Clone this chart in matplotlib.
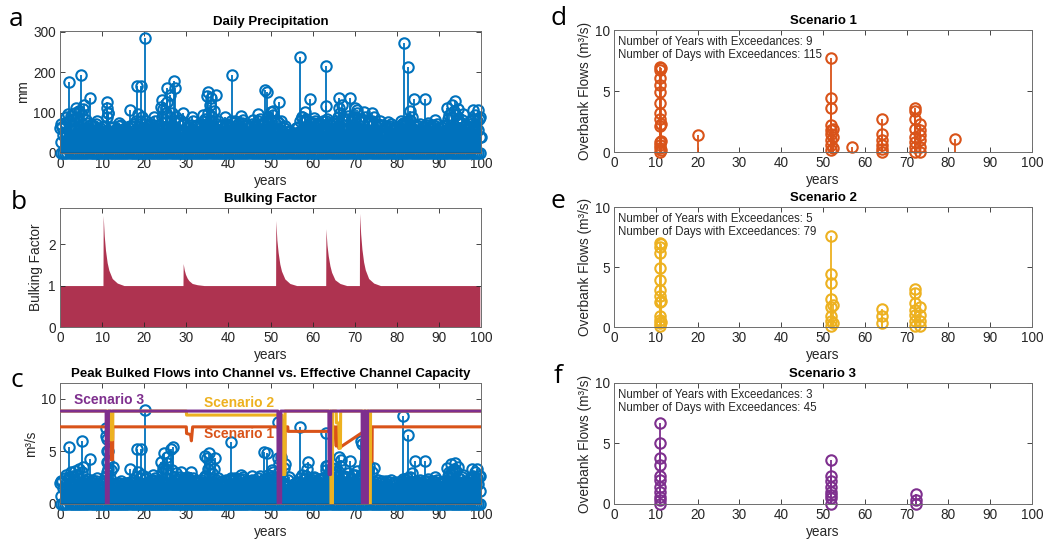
import numpy as np
import matplotlib.pyplot as plt

plt.rcParams['font.family'] = ['Liberation Sans', 'DejaVu Sans']
plt.rcParams['font.size'] = 9.5

BLUE = '#0072BD'
ORANGE = '#D95319'
YELLOW = '#EDB120'
PURPLE = '#7E2F8E'
BULK = '#AE3350'
DARK = '#262626'

# ---- a: daily precipitation (mm), sampled days ----
# two sampled days per year (the dense part of the record)
rain_dense = [
    28, 45, 52, 48, 60, 55, 58, 62, 55, 60, 50, 58, 62, 55, 48, 52, 45, 50, 42, 48,
    50, 55, 58, 52, 48, 45, 50, 47, 45, 50, 48, 52, 50, 46, 55, 48, 52, 58, 55, 60,
    62, 58, 55, 60, 58, 52, 60, 55, 62, 65, 58, 62, 60, 66, 62, 58, 55, 52, 58, 54,
    52, 48, 50, 55, 48, 52, 55, 58, 60, 62, 65, 60, 58, 62, 55, 58, 50, 52, 54, 56,
    55, 52, 58, 60, 55, 52, 50, 55, 48, 46, 50, 48, 52, 55, 58, 54, 56, 60, 58, 55,
    60, 56, 55, 52, 58, 54, 45, 42, 40, 38, 42, 45, 48, 52, 55, 60, 58, 62, 60, 56,
    58, 55, 56, 58, 60, 58, 62, 60, 58, 62, 60, 56, 62, 65, 60, 58, 58, 62, 60, 58,
    62, 58, 56, 60, 58, 55, 57, 54, 55, 58, 52, 50, 50, 48, 48, 50, 46, 44, 45, 42,
    48, 52, 55, 58, 60, 62, 58, 60, 55, 58, 52, 55, 50, 52, 48, 50, 52, 48, 50, 46,
    48, 50, 52, 55, 56, 60, 62, 58, 60, 62, 58, 55, 56, 60, 62, 58, 60, 62, 58, 40,
]
# two further wet days per year
rain_mid = [
    62, 75, 80, 85, 90, 95, 82, 70, 66, 60,
    64, 90, 62, 58, 66, 60, 64, 68, 80, 78,
    72, 68, 70, 66, 90, 100, 88, 80, 74, 70,
    62, 70, 66, 68, 78, 100, 90, 72, 66, 68,
    70, 74, 70, 75, 66, 68, 64, 78, 70, 80,
    82, 74, 75, 62, 52, 50, 62, 80, 78, 68,
    74, 70, 72, 78, 70, 74, 88, 80, 84, 80,
    86, 78, 82, 74, 80, 68, 66, 64, 66, 60,
    62, 70, 74, 82, 66, 68, 64, 70, 66, 68,
    62, 66, 84, 90, 95, 76, 66, 72, 85, 78,
]
rain_upper = [
    65, 88, 92, 98, 105, 110, 75, 70, 72, 62,
    68, 100, 65, 60, 70, 62, 68, 72, 96, 90,
    80, 72, 78, 70, 110, 125, 100, 90, 82, 75,
    65, 78, 70, 72, 85, 120, 105, 78, 70, 72,
    78, 80, 75, 82, 70, 72, 68, 85, 75, 90,
    95, 80, 80, 68, 55, 50, 65, 90, 85, 72,
    80, 75, 78, 85, 75, 80, 100, 85, 92, 88,
    100, 85, 90, 80, 88, 72, 70, 68, 72, 65,
    65, 75, 80, 90, 70, 72, 68, 75, 70, 72,
    65, 70, 95, 105, 110, 82, 70, 78, 95, 85,
]
# storm days
rain_peak_t = [0.3, 1.9, 2.1, 3.9, 4.4, 5.0, 5.8, 7.0, 8.8, 11.1, 11.2, 11.3,
               14.0, 16.6, 18.2, 19.3, 20.1, 22.3, 24.0, 24.2, 25.3, 26.1, 27.1,
               27.2, 29.3, 31.4, 34.0, 34.9, 35.1, 35.8, 37.1, 39.2, 40.8, 43.0,
               45.8, 46.9, 48.7, 49.2, 50.1, 50.6, 52.1, 57.1, 57.4, 58.1, 59.3,
               60.3, 63.1, 63.2, 66.2, 66.3, 67.0, 68.8, 70.0, 70.6, 72.2, 74.0,
               75.9, 77.9, 81.1, 81.7, 82.7, 83.1, 84.1, 86.7, 89.0, 91.8, 93.0,
               93.9, 95.7, 98.0, 99.2, 99.8, 100.0]
rain_peak = [71, 96, 175, 111, 105, 192, 119, 137, 80, 125, 111, 100,
             75, 107, 166, 166, 284, 90, 115, 131, 160, 144, 177,
             162, 98, 88, 94, 140, 152, 135, 144, 88, 192, 92,
             81, 96, 156, 152, 101, 105, 126, 237, 88, 101, 134,
             86, 216, 116, 137, 111, 118, 135, 111, 107, 101, 99,
             79, 76, 78, 272, 214, 103, 134, 134, 82, 112, 119,
             129, 96, 106, 106, 90, 40]

# ---- b: bulking factor ----
fire_years = [10.2, 29.2, 51.2, 63.1, 71.1]
decay_offsets = [0.0, 0.05, 0.3, 0.6, 1.0, 1.4, 2.2, 3.4, 5.0]
decay_values = [
    [1.0, 2.69, 2.20, 1.85, 1.55, 1.37, 1.17, 1.06, 1.0],
    [1.0, 1.53, 1.38, 1.27, 1.18, 1.12, 1.05, 1.02, 1.0],
    [1.0, 2.57, 2.10, 1.80, 1.52, 1.35, 1.16, 1.05, 1.0],
    [1.0, 2.37, 1.98, 1.72, 1.48, 1.32, 1.14, 1.05, 1.0],
    [1.0, 2.74, 2.25, 1.88, 1.57, 1.38, 1.17, 1.06, 1.0],
]
record_end = 99.7

# ---- c: peak bulked flows (m3/s) ----
flow_dense = [
    0.8, 1.5, 1.8, 1.6, 2.0, 1.8, 1.9, 2.1, 1.8, 2.0, 1.7, 1.9, 2.0, 1.8, 1.6, 1.7, 1.5, 1.6, 1.4, 1.6,
    1.6, 2.6, 3.0, 2.5, 2.0, 1.8, 1.7, 1.6, 1.5, 1.6, 1.6, 1.7, 1.7, 1.5, 1.8, 1.6, 1.7, 1.9, 1.8, 1.9,
    2.0, 1.9, 1.8, 1.9, 1.9, 1.7, 1.9, 1.8, 2.0, 2.1, 1.9, 2.0, 2.0, 2.1, 2.0, 1.9, 1.8, 1.7, 1.9, 2.4,
    2.2, 1.9, 1.7, 1.8, 1.6, 1.7, 1.8, 1.9, 2.0, 2.0, 2.1, 2.0, 1.9, 2.0, 1.8, 1.9, 1.7, 1.7, 1.8, 1.8,
    1.8, 1.7, 1.9, 2.0, 1.8, 1.7, 1.7, 1.8, 1.6, 1.5, 1.7, 1.6, 1.7, 1.8, 1.9, 1.8, 1.9, 2.0, 1.9, 1.8,
    2.0, 1.9, 1.8, 2.9, 3.2, 2.6, 2.0, 1.6, 1.3, 1.2, 1.4, 1.5, 1.6, 1.7, 1.8, 2.0, 1.9, 2.1, 2.0, 1.9,
    1.9, 1.8, 1.9, 2.0, 2.0, 1.9, 2.0, 2.8, 2.6, 2.3, 2.2, 2.0, 2.1, 2.2, 2.0, 1.9, 1.9, 2.0, 2.0, 1.9,
    2.0, 1.9, 1.8, 2.8, 3.0, 2.6, 2.4, 2.0, 1.9, 1.9, 1.7, 1.6, 1.6, 1.5, 1.5, 1.6, 1.5, 1.4, 1.4, 1.3,
    1.5, 1.7, 1.8, 1.9, 2.0, 2.1, 1.9, 2.0, 1.8, 1.9, 1.7, 1.8, 1.6, 1.7, 1.5, 1.6, 1.7, 1.5, 1.6, 1.5,
    1.5, 1.6, 1.7, 1.8, 1.9, 2.0, 2.1, 1.9, 2.0, 2.1, 1.9, 1.8, 1.8, 1.9, 2.0, 1.9, 1.9, 2.0, 1.9, 1.2,
]
flow_mid = [
    2.0, 2.5, 2.6, 2.7, 2.8, 3.0, 2.2, 2.1, 2.0, 1.9,
    2.0, 4.0, 3.2, 1.9, 2.0, 1.9, 2.0, 2.1, 2.6, 2.5,
    2.4, 2.1, 2.3, 2.1, 2.9, 3.3, 2.8, 2.6, 2.4, 2.2,
    2.6, 2.3, 2.1, 2.2, 2.5, 3.3, 2.9, 2.3, 2.1, 2.2,
    2.3, 2.3, 2.2, 2.4, 2.1, 2.1, 2.1, 2.5, 2.2, 2.5,
    2.6, 2.4, 3.8, 3.4, 2.3, 1.8, 2.0, 2.5, 2.4, 2.2,
    2.3, 2.2, 2.3, 3.2, 3.0, 2.8, 3.1, 2.5, 2.6, 2.5,
    2.8, 2.5, 3.5, 3.2, 3.0, 2.1, 2.0, 2.0, 2.1, 2.0,
    2.0, 2.2, 2.3, 2.6, 2.1, 2.1, 2.0, 2.2, 2.0, 2.1,
    2.0, 2.1, 2.7, 3.0, 3.1, 2.4, 2.1, 2.3, 2.7, 2.5,
]
flow_upper = [
    2.2, 2.8, 3.0, 3.1, 3.3, 3.5, 2.4, 2.3, 2.2, 2.0,
    2.2, 5.0, 3.5, 2.0, 2.2, 2.0, 2.1, 2.3, 3.0, 2.8,
    2.6, 2.3, 2.5, 2.2, 3.4, 3.9, 3.2, 2.9, 2.6, 2.4,
    2.5, 2.5, 2.2, 2.3, 2.7, 3.8, 3.3, 2.5, 2.2, 2.3,
    2.5, 2.5, 2.4, 2.6, 2.2, 2.3, 2.2, 2.7, 2.4, 2.8,
    3.0, 2.6, 4.5, 3.8, 2.6, 1.9, 2.1, 2.8, 2.7, 2.3,
    2.5, 2.4, 2.5, 3.6, 3.4, 3.0, 3.6, 2.7, 2.9, 2.8,
    3.1, 2.7, 4.0, 3.6, 3.4, 2.3, 2.2, 2.2, 2.3, 2.1,
    2.1, 2.4, 2.5, 2.9, 2.2, 2.3, 2.2, 2.4, 2.2, 2.3,
    2.1, 2.2, 3.0, 3.3, 3.5, 2.6, 2.2, 2.5, 3.0, 2.7,
]
flow_peak_t = [0.16, 2.1, 5.2, 7.0, 8.8, 10.9, 11.0, 11.1, 11.2, 11.3, 11.4,
               16.7, 18.2, 19.3, 20.1, 22.0, 24.0, 24.8, 25.5, 26.3, 26.9, 28.7,
               31.0, 34.5, 34.9, 35.3, 36.9, 40.5, 42.9, 45.6, 48.4, 49.2, 50.3,
               51.7, 51.8, 57.1, 58.6, 59.0, 60.4, 63.1, 63.2, 66.2, 66.7, 68.8,
               71.6, 71.7, 72.8, 81.5, 82.7, 84.3, 86.7, 89.0, 91.8, 92.8, 93.9,
               95.6, 97.9, 99.0, 99.8]
flow_peak = [2.2, 5.4, 6.0, 4.3, 2.5, 7.2, 6.5, 6.2, 5.0, 4.0, 3.3,
             3.3, 5.2, 5.2, 8.9, 2.8, 4.0, 4.8, 4.5, 5.2, 5.4, 3.0,
             3.0, 4.6, 4.4, 4.8, 4.4, 5.9, 2.8, 2.7, 4.9, 4.8, 3.2,
             7.8, 4.4, 7.3, 3.3, 4.0, 2.6, 6.7, 3.6, 4.5, 4.2, 4.1,
             6.0, 5.7, 3.5, 8.4, 6.6, 4.1, 4.1, 2.6, 3.4, 3.8, 3.9,
             2.8, 3.3, 3.3, 2.7]

# effective channel capacity per scenario (vertices of the step lines)
cap1_t = [0, 12.1, 12.15, 12.5, 12.55, 30.0, 30.05, 31.0, 31.2, 31.5, 52.8, 52.85,
          53.4, 53.45, 54.1, 54.15, 64.2, 64.25, 64.6, 64.65, 65.2, 65.25, 65.6,
          65.7, 66.1, 66.2, 73.8, 73.85, 74.1, 74.15, 100]
cap1 = [7.33, 7.33, 4.2, 4.2, 7.33, 7.33, 6.7, 6.6, 6.0, 7.33, 7.33, 3.1,
        3.1, 7.33, 7.33, 6.9, 6.9, 2.8, 2.8, 6.9, 7.33, 7.33, 5.5,
        7.33, 7.33, 5.3, 7.33, 4.0, 4.0, 7.33, 7.33]
cap2_t = [0, 11.95, 12.0, 12.5, 12.55, 30.0, 30.05, 52.7, 52.75, 53.4, 53.45,
          64.3, 64.35, 64.7, 64.75, 65.6, 65.65, 66.2, 66.35, 66.6, 66.65,
          73.3, 73.35, 73.7, 73.75, 100]
cap2 = [8.83, 8.83, 6.1, 6.1, 8.83, 8.83, 8.45, 8.45, 2.8, 2.8, 8.83,
        8.83, 0.0, 0.0, 8.83, 8.83, 7.7, 7.7, 5.3, 5.3, 8.83,
        8.83, 0.0, 0.0, 8.83, 8.83]
cap3_t = [0, 10.95, 11.0, 11.45, 11.5, 51.75, 51.8, 52.4, 52.45, 63.85, 63.9,
          64.25, 64.3, 71.75, 71.8, 72.2, 72.25, 72.6, 72.65, 73.0, 73.05, 100]
cap3 = [8.83, 8.83, 0.0, 0.0, 8.83, 8.83, 0.0, 0.0, 8.83, 8.83, 2.8,
        2.8, 8.83, 8.83, 0.0, 0.0, 8.83, 8.83, 0.0, 0.0, 8.83, 8.83]

# ---- d-f: overbank flows (m3/s) ----
s1_t = [11.0] * 13 + [11.3] * 4 + [20.0] + [52.0] * 9 + [52.3] * 3 + [57.0] \
    + [64.0] * 6 + [72.0] * 8 + [73.2] * 6 + [81.7]
s1_q = [7.0, 6.7, 6.1, 5.5, 4.9, 4.0, 3.2, 2.7, 2.1, 0.8, 0.55, 0.3, 0.0,
        6.9, 2.3, 0.9, 0.2,
        1.42,
        7.67, 4.4, 3.64, 2.2, 1.8, 1.5, 0.96, 0.55, 0.14,
        1.9, 1.2, 0.3,
        0.41,
        2.74, 1.5, 0.96, 0.55, 0.27, 0.0,
        3.64, 3.4, 2.74, 1.9, 1.2, 0.8, 0.4, 0.0,
        2.3, 1.8, 1.4, 0.96, 0.4, 0.0,
        1.04]
s2_t = [11.0] * 12 + [11.3] * 3 + [52.0] * 8 + [52.3] * 2 + [64.2] * 3 \
    + [72.0] * 7 + [73.3] * 4
s2_q = [7.0, 6.7, 6.2, 4.9, 3.9, 3.1, 2.6, 2.1, 0.9, 0.6, 0.3, 0.05,
        6.9, 2.2, 0.4,
        7.6, 4.4, 3.7, 2.3, 1.7, 0.9, 0.5, 0.05,
        1.8, 0.3,
        1.5, 0.9, 0.33,
        3.2, 2.8, 2.0, 1.4, 1.0, 0.5, 0.05,
        1.7, 1.0, 0.5, 0.05]
s3_t = [11.0] * 11 + [52.0] * 8 + [72.3] * 3
s3_q = [6.7, 5.0, 3.8, 3.2, 2.3, 2.0, 1.4, 1.0, 0.6, 0.3, 0.0,
        3.6, 2.3, 1.9, 1.4, 1.0, 0.75, 0.5, 0.0,
        0.8, 0.33, 0.0]
exceed_years = [9, 5, 3]
exceed_days = [115, 79, 45]

day_t = np.arange(0, 100, 0.5) + 0.25
mid_t = np.arange(100) + 0.1
upper_t = np.arange(100) + 0.5


def style(ax, ylim, yticks):
    ax.set_xlim(0, 100)
    ax.set_ylim(*ylim)
    ax.set_xticks(range(0, 101, 10))
    ax.set_yticks(yticks)
    ax.tick_params(direction='in', length=3.5, width=0.6, top=True, right=True,
                   colors=DARK, labelcolor=DARK, labelsize=9.8, pad=3)
    for sp in ax.spines.values():
        sp.set_color('#6e6e6e')
        sp.set_linewidth(0.7)
    ax.set_xlabel('years', color=DARK, labelpad=2, fontsize=9.8)


def stems(ax, t, v, color, ms=7.5, lw=1.3, mew=1.5, z=2):
    m, s, b = ax.stem(t, v, basefmt=' ')
    s.set_color(color)
    s.set_linewidth(lw)
    s.set_zorder(z)
    m.set_color(color)
    m.set_markerfacecolor('none')
    m.set_markersize(ms)
    m.set_markeredgewidth(mew)
    m.set_clip_on(False)
    m.set_zorder(z)


fig = plt.figure(figsize=(10.44, 5.40), dpi=100)
L = [0.0575, 0.4033]
R = [0.5881, 0.4004]

# a
ax = fig.add_axes([L[0], 0.7167, L[1], 0.2259])
stems(ax, day_t, np.zeros(len(day_t)), BLUE)
stems(ax, day_t, rain_dense, BLUE, lw=2.4)
stems(ax, mid_t, rain_mid, BLUE)
stems(ax, upper_t, rain_upper, BLUE)
stems(ax, rain_peak_t, rain_peak, BLUE)
ax.axhline(0, color=DARK, lw=1.0, zorder=3)
style(ax, (0, 302), [0, 100, 200, 300])
ax.set_ylabel('mm', color=DARK, fontsize=9.8, labelpad=2)
ax.set_title('Daily Precipitation', fontweight='bold', fontsize=9.5, pad=4)

# b
ax = fig.add_axes([L[0], 0.3944, L[1], 0.2204])
bx, by = [0.0], [1.0]
for fy, vals in zip(fire_years, decay_values):
    for off, val in zip(decay_offsets, vals):
        bx.append(fy + off)
        by.append(val)
bx.append(record_end)
by.append(1.0)
ax.fill_between(bx, 0, by, color=BULK, lw=0)
style(ax, (0, 2.87), [0, 1, 2])
ax.set_ylabel('Bulking Factor', color=DARK, fontsize=9.8)
ax.set_title('Bulking Factor', fontweight='bold', fontsize=9.5, pad=4)

# c
ax = fig.add_axes([L[0], 0.0667, L[1], 0.2241])
stems(ax, day_t, np.zeros(len(day_t)), BLUE)
stems(ax, day_t, flow_dense, BLUE, lw=2.4)
stems(ax, mid_t, flow_mid, BLUE)
stems(ax, upper_t, flow_upper, BLUE)
stems(ax, flow_peak_t, flow_peak, BLUE)
ax.axhline(0, color=DARK, lw=1.0, zorder=3)
ax.plot(cap1_t, cap1, color=ORANGE, lw=2.2, zorder=4)
ax.plot(cap2_t, cap2, color=YELLOW, lw=2.2, zorder=5)
ax.plot(cap3_t, cap3, color=PURPLE, lw=2.2, zorder=6)
ax.text(3.3, 9.85, 'Scenario 3', color=PURPLE, fontweight='bold', va='center',
        fontsize=10)
ax.text(34.3, 9.6, 'Scenario 2', color=YELLOW, fontweight='bold', va='center',
        fontsize=10)
ax.text(34.3, 6.65, 'Scenario 1', color=ORANGE, fontweight='bold', va='center',
        fontsize=10)
style(ax, (0, 11.5), [0, 5, 10])
ax.set_ylabel('m³/s', color=DARK, fontsize=9.8, labelpad=2)
ax.set_title('Peak Bulked Flows into Channel vs. Effective Channel Capacity',
             fontweight='bold', fontsize=9.5, pad=4)

# d-f
rows = [(0.7185, 0.2259), (0.3944, 0.2222), (0.0667, 0.2241)]
series = [(s1_t, s1_q, ORANGE), (s2_t, s2_q, YELLOW), (s3_t, s3_q, PURPLE)]
for i, ((b0, h), (t, q, col)) in enumerate(zip(rows, series)):
    ax = fig.add_axes([R[0], b0, R[1], h])
    stems(ax, t, q, col, ms=7.5, lw=1.3, mew=1.5)
    style(ax, (0, 10), [0, 5, 10])
    ax.set_ylabel('Overbank Flows (m³/s)', color=DARK, fontsize=9.8, labelpad=2)
    ax.set_title(f'Scenario {i + 1}', fontweight='bold', fontsize=9.5, pad=4)
    ax.text(0.01, 0.95,
            f'Number of Years with Exceedances: {exceed_years[i]}\n'
            f'Number of Days with Exceedances: {exceed_days[i]}',
            transform=ax.transAxes, va='top', ha='left', fontsize=8.3,
            color=DARK, linespacing=1.1)

# panel letters
letters = [('a', 0.008, 0.952), ('b', 0.010, 0.613), ('c', 0.010, 0.283),
           ('d', 0.527, 0.954), ('e', 0.527, 0.615), ('f', 0.530, 0.290)]
for s, x, y in letters:
    fig.text(x, y, s, fontsize=19, family='Open Sans', color='black',
             va='baseline', ha='left')

fig.savefig('out.png', dpi=100)
